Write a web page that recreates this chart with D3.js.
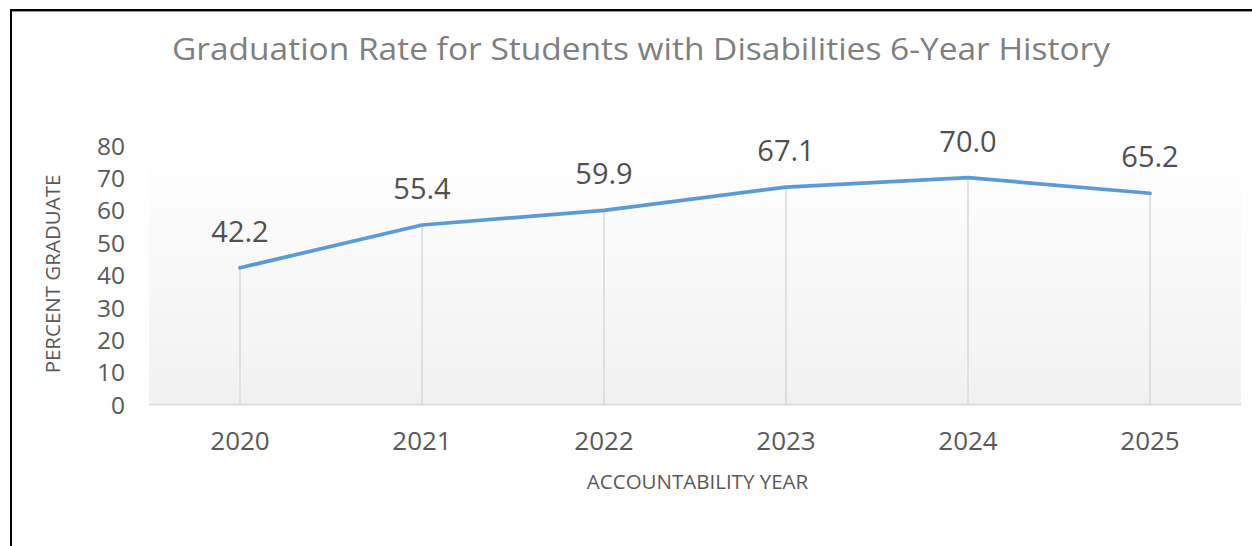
<!DOCTYPE html>
<html>
<head>
<meta charset="utf-8">
<script src="https://cdn.jsdelivr.net/npm/d3@7"></script>
<style>
  html, body { margin: 0; padding: 0; background: #ffffff; }
  svg { display: block; }
  text { font-family: "Open Sans", "Noto Sans", sans-serif; }
</style>
</head>
<body>
<svg id="chart" width="1252" height="546"></svg>
<script>
// ---- data ----
const years = ["2020", "2021", "2022", "2023", "2024", "2025"];
const rates = [42.2, 55.4, 59.9, 67.1, 70.0, 65.2];
const yTicks = [0, 10, 20, 30, 40, 50, 60, 70, 80];
const chartTitle = "Graduation Rate for Students with Disabilities 6-Year History";
const yTitle = "PERCENT GRADUATE";
const xTitle = "ACCOUNTABILITY YEAR";

const W = 1252, H = 546;
const plot = { left: 149, right: 1241, top: 145.3, bottom: 404.5 };

const svg = d3.select("#chart");

// frame (top and left border)
svg.append("line").attr("x1", 10).attr("x2", W).attr("y1", 10).attr("y2", 10)
  .attr("stroke", "#000").attr("stroke-width", 2);
svg.append("line").attr("x1", 10).attr("x2", W).attr("y1", 11.5).attr("y2", 11.5)
  .attr("stroke", "#9a9a9a").attr("stroke-width", 1);
svg.append("line").attr("x1", 11).attr("x2", 11).attr("y1", 9).attr("y2", H)
  .attr("stroke", "#000").attr("stroke-width", 2);

// scales
const x = d3.scaleBand().domain(years).range([plot.left, plot.right]).padding(0);
const y = d3.scaleLinear().domain([0, 80]).range([plot.bottom, plot.top]);
const cx = d => x(d) + x.bandwidth() / 2;

// plot area gradient background
const defs = svg.append("defs");
const grad = defs.append("linearGradient").attr("id", "bg")
  .attr("x1", 0).attr("y1", 0).attr("x2", 0).attr("y2", 1);
grad.append("stop").attr("offset", "0%").attr("stop-color", "#ffffff");
grad.append("stop").attr("offset", "100%").attr("stop-color", "#f1f1f1");
svg.append("rect")
  .attr("x", plot.left).attr("y", y(80))
  .attr("width", plot.right - plot.left).attr("height", y(0) - y(80))
  .attr("fill", "url(#bg)");

// title
svg.append("text")
  .attr("x", 641).attr("y", 60)
  .attr("text-anchor", "middle")
  .attr("font-size", 31)
  .attr("fill", "#7f7f7f")
  .attr("textLength", 938)
  .attr("lengthAdjust", "spacingAndGlyphs")
  .text(chartTitle);

// drop lines
svg.append("g").selectAll("line").data(years).join("line")
  .attr("x1", d => cx(d)).attr("x2", d => cx(d))
  .attr("y1", (d, i) => y(rates[i])).attr("y2", y(0))
  .attr("stroke", "#d9d9d9").attr("stroke-width", 1.5);

// baseline
svg.append("line")
  .attr("x1", plot.left).attr("x2", plot.right)
  .attr("y1", y(0)).attr("y2", y(0))
  .attr("stroke", "#d9d9d9").attr("stroke-width", 1.75);

// y axis labels (no axis line)
const yAxis = d3.axisLeft(y).tickValues(yTicks).tickSize(0).tickPadding(0).tickFormat(d3.format("d"));
const yg = svg.append("g").attr("transform", "translate(125,0)").call(yAxis);
yg.select(".domain").remove();
yg.selectAll("text").attr("font-size", 24.5).attr("fill", "#595959")
  .attr("font-family", "'Open Sans', sans-serif").attr("dy", "0.36em");

// x axis labels
const xAxis = d3.axisBottom(x).tickSize(0).tickPadding(0);
const xg = svg.append("g").attr("transform", `translate(0,${y(0)})`).call(xAxis);
xg.select(".domain").remove();
xg.selectAll("text").attr("font-size", 26).attr("fill", "#595959")
  .attr("font-family", "'Open Sans', sans-serif").attr("dy", null).attr("y", 45.5);

// line
const line = d3.line().x(d => cx(d[0])).y(d => y(d[1]));
svg.append("path")
  .datum(years.map((yr, i) => [yr, rates[i]]))
  .attr("d", line)
  .attr("fill", "none")
  .attr("stroke", "#5b9bd5")
  .attr("stroke-width", 3.75)
  .attr("stroke-linejoin", "round")
  .attr("stroke-linecap", "round");

// data labels
svg.append("g").selectAll("text").data(years).join("text")
  .attr("x", d => cx(d))
  .attr("y", (d, i) => y(rates[i]) - 26)
  .attr("text-anchor", "middle")
  .attr("font-size", 29)
  .attr("fill", "#505050")
  .text((d, i) => d3.format(".1f")(rates[i]));

// axis titles
svg.append("text")
  .attr("transform", "translate(60,274) rotate(-90)")
  .attr("text-anchor", "middle")
  .attr("font-size", 20.5)
  .attr("fill", "#595959")
  .text(yTitle);

svg.append("text")
  .attr("x", 697.5).attr("y", 489)
  .attr("text-anchor", "middle")
  .attr("font-size", 20.5)
  .attr("fill", "#595959")
  .text(xTitle);
</script>
</body>
</html>
